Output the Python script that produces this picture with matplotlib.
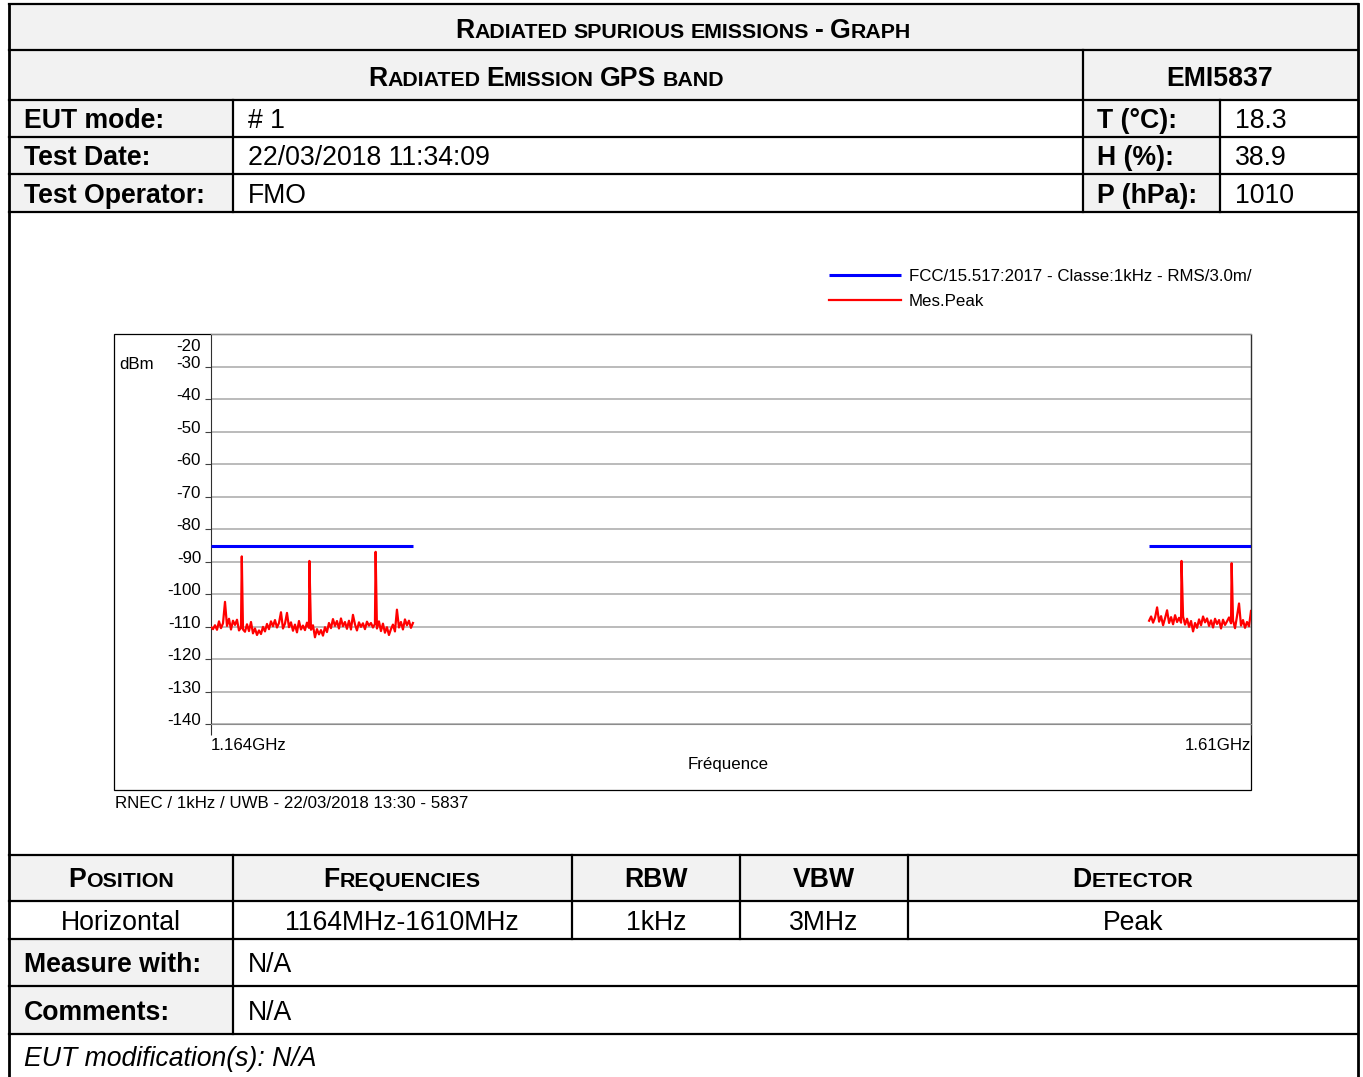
"""
Radiated spurious emissions report sheet: GPS band peak sweep against the FCC 15.517 limit.
"""

import numpy as np
import matplotlib
matplotlib.use('Agg')
import matplotlib.pyplot as plt
from matplotlib.patches import Rectangle
from matplotlib.transforms import ScaledTranslation

plt.rcParams['font.family'] = ['Liberation Sans', 'DejaVu Sans']

# Sheet size in pixels, drawn at 100 dpi
W, H = 1363, 1077
DPI = 100

# Peak sweep, lower GPS band (MHz, dBm)
band1_start, band1_stop = 1164.0, 1250.6
band1_levels = [
    -110.2, -110.8, -109.6, -111.0, -108.4, -110.5, -109.0, -102.4, -109.8, -107.6,
    -110.9, -108.2, -109.5, -107.9, -111.2, -110.4, -110.9, -111.6, -109.3, -111.4,
    -108.6, -112.1, -110.6, -112.6, -111.2, -112.3, -110.1, -111.5, -109.2, -110.8,
    -108.4, -109.9, -108.0, -110.3, -108.9, -105.6, -110.6, -109.1, -105.8, -110.2,
    -108.7, -111.3, -109.4, -111.8, -108.3, -110.9, -109.7, -111.1, -108.8, -110.4,
    -111.0, -109.6, -113.3, -110.8, -112.4, -111.1, -112.8, -110.2, -111.7, -108.9,
    -110.5, -107.7, -109.8, -108.3, -110.6, -107.5, -109.9, -108.6, -110.7, -108.2,
    -110.9, -106.4, -109.3, -111.2, -108.7, -110.1, -109.0, -110.8, -108.5, -109.7,
    -108.9, -110.3, -109.2, -110.6, -108.4, -111.4, -109.1, -111.9, -110.2, -112.6,
    -110.8, -109.4, -111.5, -104.8, -110.3, -108.6, -110.9, -107.8, -109.6, -108.2,
    -110.4, -108.9,
]

# Peak sweep, upper GPS band (MHz, dBm)
band2_start, band2_stop = 1566.3, 1610.0
band2_levels = [
    -108.2, -106.9, -108.8, -107.2, -104.1, -108.5, -106.8, -109.6, -107.4, -105.0,
    -108.9, -107.1, -109.3, -106.5, -108.6, -107.3, -108.8, -106.9, -109.4, -107.6,
    -110.1, -108.3, -111.5, -108.9, -110.4, -107.8, -109.6, -106.9, -108.7, -107.5,
    -109.8, -108.1, -110.3, -107.6, -109.2, -108.0, -110.6, -107.9, -109.5, -108.4,
    -107.2, -109.0, -108.1, -110.5, -106.8, -102.9, -109.7, -108.0, -110.4, -108.6,
    -109.9, -105.2,
]

# Discrete emissions picked up in the sweep
spike_freqs = [1177.2, 1206.2, 1234.6, 1580.2, 1601.7]
spike_levels = [-88.4, -89.8, -87.0, -89.8, -90.5]

# FCC/15.517 limit, one segment per band
limit_start = [1164.0, 1566.3]
limit_stop = [1250.6, 1610.0]
limit_level = -85.3

y_ticks = [-30, -40, -50, -60, -70, -80, -90, -100, -110, -120, -130, -140]
y_label_values = [-20] + y_ticks
y_labels = [str(v) for v in y_label_values]
x_ticks = [1164, 1610]
x_tick_labels = ['1.164GHz', '1.61GHz']
legend_labels = ['FCC/15.517:2017 - Classe:1kHz - RMS/3.0m/', 'Mes.Peak']
graph_caption = 'RNEC / 1kHz / UWB - 22/03/2018 13:30 - 5837'

# Report table content
title = 'Radiated spurious emissions - Graph'
subtitle = 'Radiated Emission GPS band'
report_id = 'EMI5837'
info_labels = ['EUT mode:', 'Test Date:', 'Test Operator:']
info_values = ['# 1', '22/03/2018 11:34:09', 'FMO']
env_labels = ['T (°C):', 'H (%):', 'P (hPa):']
env_values = ['18.3', '38.9', '1010']
setup_headers = ['Position', 'Frequencies', 'RBW', 'VBW', 'Detector']
setup_values = ['Horizontal', '1164MHz-1610MHz', '1kHz', '3MHz', 'Peak']
footer_labels = ['Measure with:', 'Comments:']
footer_values = ['N/A', 'N/A']
modification_note = 'EUT modification(s): N/A'

BIG, SMALL, CHART = 19.2, 15.4, 12.2
GRAY = '#f2f2f2'
LEFT, RIGHT = 9, 1358


def px(pt):
    return pt * DPI / 72


def sweep(start, stop, levels):
    """Sweep grid plus any discrete emissions that fall inside it."""
    f = np.linspace(start, stop, len(levels))
    inside = [(sf, sl) for sf, sl in zip(spike_freqs, spike_levels) if start <= sf <= stop]
    f = np.concatenate([f, [s[0] for s in inside]])
    v = np.concatenate([levels, [s[1] for s in inside]])
    order = np.argsort(f)
    return f[order], v[order]


fig = plt.figure(figsize=(W / DPI, H / DPI), dpi=DPI)
sheet = fig.add_axes([0, 0, 1, 1], zorder=0)
sheet.set_xlim(0, W)
sheet.set_ylim(H, 0)
sheet.axis('off')
renderer = fig.canvas.get_renderer()


def shade(x0, y0, x1, y1):
    sheet.add_patch(Rectangle((x0, y0), x1 - x0, y1 - y0, facecolor=GRAY, edgecolor='none'))


def rule(x0, y0, x1, y1, lw=1.6):
    sheet.plot([x0, x1], [y0, y1], color='black', lw=lw, solid_capstyle='projecting')


def put(x, yc, s, size=BIG, ha='left', **kw):
    sheet.text(x, yc + 0.358 * px(size), s, fontsize=size, ha=ha, va='baseline', **kw)


def small_caps(cx, yc, s, big=BIG, small=SMALL):
    """Bold small-caps line centred on cx: capitals at full size, the rest reduced."""
    base = yc + 0.358 * px(big)
    gap = 0.278 * px(small)
    runs = []
    x = 0.0
    for k, word in enumerate(s.split(' ')):
        if k:
            x += gap
        groups = []
        for ch in word:
            sz = small if ch.islower() else big
            if groups and groups[-1][1] == sz:
                groups[-1][0] += ch.upper()
            else:
                groups.append([ch.upper(), sz])
        for txt, sz in groups:
            t = sheet.text(0, base, txt, fontsize=sz, fontweight='bold', va='baseline', ha='left')
            runs.append((t, x))
            x += t.get_window_extent(renderer).width
    for t, off in runs:
        t.set_x(cx - x / 2 + off)


# shaded header cells
shade(LEFT, 4, RIGHT, 100)
shade(LEFT, 100, 233, 212)
shade(1083, 100, 1220, 212)
shade(LEFT, 855, RIGHT, 901)
shade(LEFT, 939, 233, 1034)

# table rules
for y in [4, 50, 100, 137, 174, 212, 855, 901, 939, 986, 1034]:
    rule(LEFT, y, RIGHT, y)
rule(LEFT, 4, LEFT, H + 5, lw=2.0)
rule(RIGHT, 4, RIGHT, H + 5, lw=2.0)
rule(1083, 50, 1083, 212)
for x in (233, 1220):
    rule(x, 100, x, 212)
for x in (233, 572, 740, 908):
    rule(x, 855, x, 939)
rule(233, 939, 233, 1034)

# top block
small_caps(683, 28, title)
small_caps(546, 76, subtitle)
put(1220, 76, report_id, ha='center', fontweight='bold')
for k, row_y in enumerate([118, 155.5, 193]):
    put(24, row_y, info_labels[k], fontweight='bold')
    put(248, row_y, info_values[k])
    put(1097, row_y, env_labels[k], fontweight='bold')
    put(1235, row_y, env_values[k])

# bottom block
col_centers = [121, 402, 656, 824, 1133]
for k, cx in enumerate(col_centers):
    small_caps(cx, 877.5, setup_headers[k])
    put(cx, 920, setup_values[k], ha='center')
for k, row_y in enumerate([962, 1010]):
    put(24, row_y, footer_labels[k], fontweight='bold')
    put(248, row_y, footer_values[k])
put(24, 1056.5, modification_note, style='italic')

# chart frame and captions
sheet.add_patch(Rectangle((114, 334), 1251 - 114, 790 - 334, fill=False,
                          edgecolor='black', lw=0.9))
put(119, 363, 'dBm', size=CHART)
put(115, 802, graph_caption, size=CHART)

# spectrum axes
L, R, T, B = 211, 1251, 334.2, 724
ax = fig.add_axes([L / W, 1 - B / H, (R - L) / W, (B - T) / H], zorder=1)
ax.patch.set_alpha(0)

f1, v1 = sweep(band1_start, band1_stop, band1_levels)
f2, v2 = sweep(band2_start, band2_stop, band2_levels)
ax.hlines([limit_level] * len(limit_start), limit_start, limit_stop,
          colors='#0000ff', lw=2.2, label=legend_labels[0], zorder=3)
ax.plot(f1, v1, color='#ff0000', lw=1.6, label=legend_labels[1], zorder=4)
ax.plot(f2, v2, color='#ff0000', lw=1.6, zorder=4)

ax.set_xlim(x_ticks[0], x_ticks[-1])
ax.set_ylim(-140, -20)
ax.set_yticks(y_ticks)
ax.set_yticklabels([])
ax.tick_params(axis='y', length=4.3, width=0.8, color='#404040', direction='out')
ax.yaxis.grid(True, color='#a8a8a8', lw=1.1)
ax.set_axisbelow(True)
ax.set_xticks(x_ticks)
ax.set_xticklabels(x_tick_labels, fontsize=CHART)
xl = ax.get_xticklabels()
xl[0].set_ha('left')
xl[-1].set_ha('right')
xl[-1].set_transform(xl[-1].get_transform() + ScaledTranslation(-0.03, 0, fig.dpi_scale_trans))
ax.tick_params(axis='x', length=8, width=0.8, pad=2, color='#303030')
for side in ('top', 'bottom'):
    ax.spines[side].set_color('#8c8c8c')
for side in ('left', 'right'):
    ax.spines[side].set_color('#303030')

for v, lab in zip(y_label_values, y_labels):
    dy = -17 if v == -20 else -1
    ax.annotate(lab, xy=(0, v), xycoords=('axes fraction', 'data'), xytext=(-10, dy),
                textcoords='offset pixels', ha='right', va='baseline', fontsize=CHART)

ax.set_xlabel('Fréquence', fontsize=CHART)
ax.xaxis.set_label_coords(0.497, -0.085)

ax.legend(loc='upper left', bbox_to_anchor=(829 / W, 1 - 269 / H),
          bbox_transform=fig.transFigure, frameon=False, fontsize=CHART,
          borderpad=0, borderaxespad=0, handlelength=4.25, handletextpad=0.45,
          labelspacing=0.6)

fig.savefig('out.png', dpi=DPI)
